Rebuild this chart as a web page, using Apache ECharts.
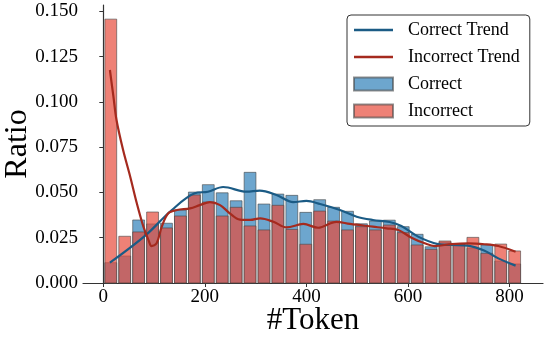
<!DOCTYPE html>
<html>
<head>
<meta charset="utf-8">
<script src="https://cdn.jsdelivr.net/npm/echarts@6/dist/echarts.min.js"></script>
<style>
  html, body { margin: 0; padding: 0; background: #fff; }
  #chart { width: 548px; height: 340px; }
</style>
</head>
<body>
<div id="chart"></div>
<script>
// histogram bins (#Token)
const binStart = 1;
const binWidth = 27.43;
const correctRatio = [0.0112, 0.0149, 0.0348, 0.0326, 0.0330, 0.0403, 0.0502, 0.0543, 0.0498, 0.0454,
  0.0611, 0.0436, 0.0491, 0.0484, 0.0390, 0.0460, 0.0418, 0.0396, 0.0327, 0.0342,
  0.0347, 0.0311, 0.0269, 0.0200, 0.0226, 0.0213, 0.0192, 0.0210, 0.0121, 0.0105];
const incorrectRatio = [0.1457, 0.0258, 0.0282, 0.0392, 0.0304, 0.0370, 0.0486, 0.0447, 0.0370, 0.0418,
  0.0315, 0.0293, 0.0429, 0.0296, 0.0214, 0.0397, 0.0342, 0.0293, 0.0311, 0.0293,
  0.0320, 0.0278, 0.0210, 0.0186, 0.0232, 0.0216, 0.0252, 0.0164, 0.0215, 0.0177];

// trend curves
const correctTrendX = [13, 82, 135, 180, 206, 236, 282, 308, 341, 374, 400, 427, 466, 499, 531, 564, 587, 620, 659, 686, 718, 751, 778, 812];
const correctTrendY = [0.0112, 0.0260, 0.0403, 0.0495, 0.0504, 0.0530, 0.0504, 0.0510, 0.0486, 0.0447, 0.0453, 0.0436, 0.0403, 0.0366, 0.0348, 0.0337, 0.0315, 0.0256, 0.0215, 0.0210, 0.0206, 0.0178, 0.0136, 0.0096];
const incorrectTrendX = [13, 20, 26, 39, 53, 66, 79, 89, 95, 105, 115, 128, 145, 171, 190, 210, 230, 249, 269, 289, 309, 335, 361, 394, 423, 459, 486, 531, 558, 581, 607, 633, 653, 686, 719, 751, 778, 812];
const incorrectTrendY = [0.1176, 0.1028, 0.0900, 0.0734, 0.0587, 0.0440, 0.0311, 0.0237, 0.0204, 0.0219, 0.0310, 0.0385, 0.0403, 0.0412, 0.0430, 0.0447, 0.0430, 0.0385, 0.0350, 0.0348, 0.0357, 0.0338, 0.0307, 0.0326, 0.0305, 0.0338, 0.0326, 0.0311, 0.0302, 0.0293, 0.0250, 0.0219, 0.0204, 0.0215, 0.0219, 0.0214, 0.0204, 0.0173];

// axis ticks
const xTicks = [0, 200, 400, 600, 800];
const yTicks = [0, 0.025, 0.05, 0.075, 0.1, 0.125, 0.15];

const font = "'Liberation Serif', 'Times New Roman', serif";
const rwidth = 0.85;
const lineIcon = "path://M0,0L39,0L39,2.4L0,2.4Z";
const zip = (xs, ys) => xs.map((x, i) => [x, ys[i]]);
// [binLeft, binRight, value]
const toBins = vals => vals.map((v, i) => {
  const c = binStart + binWidth * (i + 0.5);
  return [c - binWidth * rwidth / 2, c + binWidth * rwidth / 2, v];
});

// histogram bars drawn through the axes' own coordinate conversion
function renderBin(params, api) {
  const p0 = api.coord([api.value(0), api.value(2)]);
  const p1 = api.coord([api.value(1), 0]);
  return {
    type: "rect",
    shape: { x: p0[0], y: p0[1], width: p1[0] - p0[0], height: p1[1] - p0[1] },
    style: {
      fill: api.visual("color"),
      stroke: "rgba(70,70,70,0.6)",
      lineWidth: 1
    }
  };
}

const chart = echarts.init(document.getElementById("chart"));
const option = {
  animation: false,
  backgroundColor: "#fff",
  textStyle: { fontFamily: font },
  grid: { left: 83, right: 5, top: 5, bottom: 57, containLabel: false, outerBoundsMode: "none" },
  legend: {
    orient: "vertical",
    left: 347,
    top: 15,
    data: [
      { name: "Correct Trend", icon: lineIcon },
      { name: "Incorrect Trend", icon: lineIcon },
      { name: "Correct", icon: "rect" },
      { name: "Incorrect", icon: "rect" }
    ],
    itemWidth: 39,
    itemHeight: 13,
    itemGap: 9,
    padding: [6, 10, 6, 6],
    borderColor: "#333",
    borderWidth: 1,
    borderRadius: 4,
    textStyle: { fontFamily: font, fontSize: 18, color: "#000", padding: [0, 0, 0, 10] }
  },
  xAxis: {
    type: "value",
    min: -40,
    max: 866,
    name: "#Token",
    nameLocation: "middle",
    nameGap: 22,
    nameMoveOverlap: false,
    nameTextStyle: { fontFamily: font, fontSize: 31, color: "#000", verticalAlign: "top" },
    axisLine: { show: true, lineStyle: { color: "#333", width: 1.2 } },
    axisTick: { show: true, length: 4, customValues: xTicks, lineStyle: { color: "#333" } },
    axisLabel: { customValues: xTicks, fontFamily: font, fontSize: 19, color: "#000", margin: 5 },
    splitLine: { show: false }
  },
  yAxis: {
    type: "value",
    min: 0,
    max: 0.1535,
    name: "Ratio",
    nameLocation: "middle",
    nameGap: 49,
    nameMoveOverlap: false,
    nameTextStyle: { fontFamily: font, fontSize: 32, color: "#000" },
    axisLine: { show: true, lineStyle: { color: "#333", width: 1.2 } },
    axisTick: { show: true, length: 4, customValues: yTicks, lineStyle: { color: "#333" } },
    axisLabel: {
      customValues: yTicks,
      fontFamily: font, fontSize: 19, color: "#000", margin: 5,
      formatter: v => v.toFixed(3)
    },
    splitLine: { show: false }
  },
  series: [
    {
      name: "Correct",
      type: "custom",
      renderItem: renderBin,
      data: toBins(correctRatio),
      encode: { x: [0, 1], y: 2 },
      itemStyle: { color: "rgba(31,119,180,0.65)", borderColor: "rgba(70,70,70,0.6)", borderWidth: 1 }
    },
    {
      name: "Incorrect",
      type: "custom",
      renderItem: renderBin,
      data: toBins(incorrectRatio),
      encode: { x: [0, 1], y: 2 },
      itemStyle: { color: "rgba(231,76,60,0.7)", borderColor: "rgba(70,70,70,0.6)", borderWidth: 1 }
    },
    {
      name: "Correct Trend",
      type: "line",
      data: zip(correctTrendX, correctTrendY),
      smooth: 0.35,
      symbol: "none",
      lineStyle: { color: "#1b5b85", width: 2.2 },
      itemStyle: { color: "#1b5b85" },
      z: 5
    },
    {
      name: "Incorrect Trend",
      type: "line",
      data: zip(incorrectTrendX, incorrectTrendY),
      smooth: 0.35,
      symbol: "none",
      lineStyle: { color: "#a52a1e", width: 2.2 },
      itemStyle: { color: "#a52a1e" },
      z: 5
    }
  ]
};
chart.setOption(option);
</script>
</body>
</html>
